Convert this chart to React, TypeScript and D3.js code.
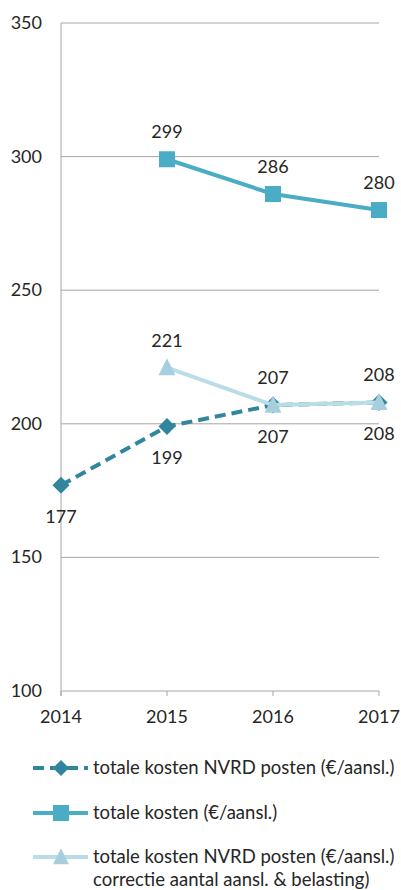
import React from "react";
import * as d3 from "d3";

const years = ["2014", "2015", "2016", "2017"];
const nvrd = [177, 199, 207, 208];
const totaal = [null, 299, 286, 280];
const correctie = [null, 221, 207, 208];
const yTicks = [100, 150, 200, 250, 300, 350];
const legendLabels = [
  ["totale kosten NVRD posten (€/aansl.)"],
  ["totale kosten (€/aansl.)"],
  ["totale kosten NVRD posten (€/aansl.)", "correctie aantal aansl. & belasting)"],
];

const C_DARK = "#31859C";
const C_MID = "#4BACC6";
const C_LIGHT = "#B9DDE8";
const C_LIGHT_M = "#A5CFDD";
const FONT = "Lato, 'Open Sans', sans-serif";

export default function App() {
  const W = 401, H = 890;
  const x = d3.scalePoint<string>().domain(years).range([61, 379]);
  const y = d3.scaleLinear().domain([100, 350]).range([691, 23]);
  const line = d3
    .line<[string, number | null]>()
    .defined((d) => d[1] != null)
    .x((d) => x(d[0])!)
    .y((d) => y(d[1] as number));

  const diamond = (cx: number, cy: number, r: number) =>
    `M${cx},${cy - r}L${cx + r},${cy}L${cx},${cy + r}L${cx - r},${cy}Z`;
  const tri = (cx: number, cy: number, s: number) =>
    `M${cx},${cy - s * 0.55}L${cx + s / 2},${cy + s * 0.45}L${cx - s / 2},${cy + s * 0.45}Z`;

  const zip = (arr: (number | null)[]) => years.map((yr, i) => [yr, arr[i]] as [string, number | null]);

  const legY = [768, 813, 857];

  return (
    <svg width={W} height={H} style={{ position: "absolute", left: 0, top: 0 }} fontFamily={FONT}>
      {yTicks.slice(1).map((t) => (
        <line key={t} x1={61} x2={379} y1={y(t)} y2={y(t)} stroke="#A6A6A6" strokeWidth={1} />
      ))}
      <line x1={61} x2={61} y1={y(350)} y2={y(100) + 5} stroke="#A6A6A6" />
      <line x1={61} x2={379} y1={y(100)} y2={y(100)} stroke="#A6A6A6" />
      {years.map((yr) => (
        <line key={yr} x1={x(yr)} x2={x(yr)} y1={y(100)} y2={y(100) + 5} stroke="#A6A6A6" />
      ))}
      {yTicks.map((t) => (
        <text key={t} x={42} y={y(t) + 6} textAnchor="end" fontSize={18} fill="#262626">
          {t}
        </text>
      ))}
      {years.map((yr) => (
        <text key={yr} x={x(yr)} y={723} textAnchor="middle" fontSize={18} fill="#262626">
          {yr}
        </text>
      ))}

      <path d={line(zip(nvrd))!} fill="none" stroke={C_DARK} strokeWidth={4} strokeDasharray="11,6" />
      {nvrd.map((v, i) => (
        <path key={i} d={diamond(x(years[i])!, y(v), 8.5)} fill={C_DARK} />
      ))}
      <path d={line(zip(totaal))!} fill="none" stroke={C_MID} strokeWidth={4} />
      {totaal.map((v, i) =>
        v == null ? null : (
          <rect key={i} x={x(years[i])! - 8} y={y(v) - 8} width={16} height={16} fill={C_MID} />
        )
      )}
      <path d={line(zip(correctie))!} fill="none" stroke={C_LIGHT} strokeWidth={4} />
      {correctie.map((v, i) =>
        v == null ? null : <path key={i} d={tri(x(years[i])!, y(v), 17)} fill={C_LIGHT_M} />
      )}

      {totaal.map((v, i) =>
        v == null ? null : (
          <text key={"t" + i} x={x(years[i])} y={y(v) - 21} textAnchor="middle" fontSize={18} fill="#262626">
            {v}
          </text>
        )
      )}
      {correctie.map((v, i) =>
        v == null ? null : (
          <text key={"c" + i} x={x(years[i])} y={y(v) - 21} textAnchor="middle" fontSize={18} fill="#262626">
            {v}
          </text>
        )
      )}
      {nvrd.map((v, i) => (
        <text key={"n" + i} x={x(years[i])!} y={y(v) + 38} textAnchor="middle" fontSize={18} fill="#262626">
          {v}
        </text>
      ))}

      <line x1={33} x2={88} y1={legY[0]} y2={legY[0]} stroke={C_DARK} strokeWidth={4} strokeDasharray="11,6" />
      <path d={diamond(61, legY[0], 8)} fill={C_DARK} />
      <line x1={33} x2={88} y1={legY[1]} y2={legY[1]} stroke={C_MID} strokeWidth={4} />
      <rect x={53} y={legY[1] - 8} width={16} height={16} fill={C_MID} />
      <line x1={33} x2={88} y1={legY[2]} y2={legY[2]} stroke={C_LIGHT} strokeWidth={4} />
      <path d={tri(61, legY[2], 16)} fill={C_LIGHT_M} />
      {legendLabels.map((lines, i) => (
        <text key={i} x={93} y={legY[i] + 6} fontSize={18.5} fill="#262626">
          {lines.map((l, j) => (
            <tspan key={j} x={93} dy={j === 0 ? 0 : 23}>
              {l}
            </tspan>
          ))}
        </text>
      ))}
    </svg>
  );
}
